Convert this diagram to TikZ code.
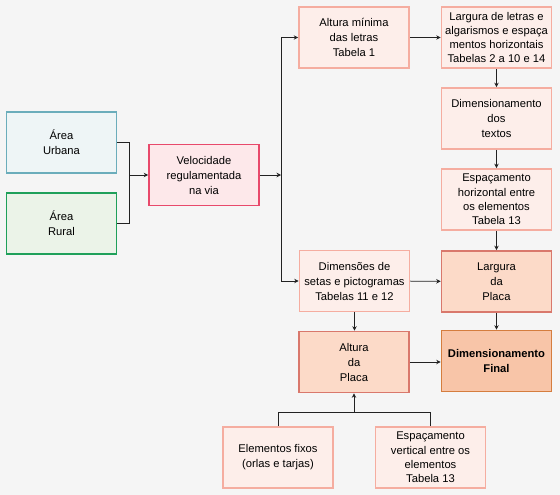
\documentclass[tikz,border=0pt]{standalone}
\usepackage{fontspec}
\setmainfont{Liberation Sans}
\usetikzlibrary{arrows.meta}
\definecolor{bg}{HTML}{F5F5F5}
\definecolor{urbF}{HTML}{EEF5F6}
\definecolor{urbD}{HTML}{6BADBB}
\definecolor{rurF}{HTML}{EBF3E8}
\definecolor{rurD}{HTML}{1FA05A}
\definecolor{velF}{HTML}{FDE8EA}
\definecolor{velD}{HTML}{E8496B}
\definecolor{ltF}{HTML}{FDEEEA}
\definecolor{ltD}{HTML}{F5ADA0}
\definecolor{mdF}{HTML}{FCDAC8}
\definecolor{mdD}{HTML}{D9786C}
\definecolor{fnF}{HTML}{F8C5A8}
\definecolor{fnD}{HTML}{D57D3E}
\definecolor{ln}{HTML}{222222}
\tikzset{
  box/.style={rectangle, line width=1.6pt, minimum width=110pt, minimum height=61pt,
    inner sep=0pt, align=center, font=\fontsize{11.2}{15}\selectfont, text=black},
  urbbox/.style={box, fill=urbF, draw=urbD},
  rurbox/.style={box, fill=rurF, draw=rurD},
  velbox/.style={box, fill=velF, draw=velD},
  ltbox/.style={box, fill=ltF, draw=ltD},
  mdbox/.style={box, fill=mdF, draw=mdD},
  fnbox/.style={box, fill=fnF, draw=fnD},
  conn/.style={draw=ln, line width=0.9pt},
  arr/.style={conn, -{Stealth[length=4.5pt,width=4.5pt]}},
}
\begin{document}
\begin{tikzpicture}[x=1pt,y=-1pt]
\fill[bg] (0,0) rectangle (560,495);
\useasboundingbox (0,0) rectangle (560,495);
\node[urbbox] (urb) at (61.5,142.5) {Área\\Urbana};
\node[rurbox] (rur) at (61.5,223.5) {Área\\Rural};
\node[velbox] (vel) at (204,175) {Velocidade\\regulamentada\\na via};
\node[ltbox] (alt) at (354,37.5) {Altura mínima\\das letras\\Tabela 1};
\node[ltbox, font=\fontsize{11.2}{14.3}\selectfont] (larg) at (496.5,37.5) {Largura de letras e\\algarismos e espaça\\mentos horizontais\\Tabelas 2 a 10 e 14};
\node[ltbox] (dimt) at (496.5,118.5) {Dimensionamento\\dos\\textos};
\node[ltbox, font=\fontsize{11.2}{14.3}\selectfont] (esph) at (496.5,199.5) {Espaçamento\\horizontal entre\\os elementos\\Tabela 13};
\node[ltbox] (dset) at (354.5,281) {Dimensões de\\setas e pictogramas\\Tabelas 11 e 12};
\node[mdbox] (lplac) at (496.5,281.5) {Largura\\da\\Placa};
\node[mdbox] (aplac) at (354,362) {Altura\\da\\Placa};
\node[fnbox] (final) at (496.5,361) {\textbf{Dimensionamento}\\\textbf{Final}};
\node[ltbox] (elem) at (278,457.5) {Elementos fixos\\(orlas e tarjas)};
\node[ltbox, font=\fontsize{11.2}{14.3}\selectfont] (espv) at (430.5,457.5) {Espaçamento\\vertical entre os\\elementos\\Tabela 13};
\coordinate (j1) at (129,175);
\coordinate (j2) at (281,175);
\coordinate (j3) at (354,412);
\draw[conn] (urb.east) -| (j1);
\draw[conn] (rur.east) -| (j1);
\draw[arr] (j1) -- (vel.west);
\draw[arr] (vel.east) -- (j2);
\draw[arr] (j2) |- (alt.west);
\draw[arr] (j2) |- (dset.west);
\draw[arr] (alt) -- (larg);
\draw[arr] (larg) -- (dimt);
\draw[arr] (dimt) -- (esph);
\draw[arr] (esph) -- (lplac);
\draw[arr] (dset) -- (lplac);
\draw[arr] (dset) -- (dset.south |- aplac.north);
\draw[arr] (lplac) -- (final);
\draw[arr] (aplac.east) -- (aplac.east -| final.west);
\draw[conn] (elem.north) |- (j3);
\draw[conn] (espv.north) |- (j3);
\draw[arr] (j3) -- (aplac.south);
\end{tikzpicture}
\end{document}
